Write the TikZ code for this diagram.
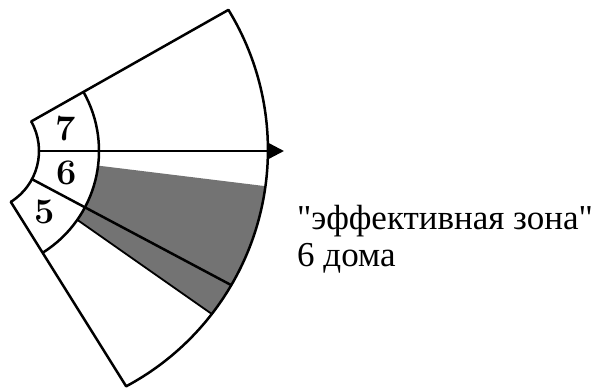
\documentclass[tikz,border=0pt]{standalone}
\usepackage{fontspec}
\newfontfamily\ruserif{Liberation Serif}
\usetikzlibrary{arrows.meta}
\begin{document}
\begin{tikzpicture}[x=1pt,y=1pt, line join=round,
  edge/.style={line width=2.5pt},
  zoneshade/.style={fill=black!55},
  num/.style={font=\fontsize{36}{36}\selectfont\bfseries, inner sep=0pt},
  lbl/.style={font=\ruserif\fontsize{35}{37}\selectfont, inner sep=0pt, anchor=base west}]
\useasboundingbox (0,0) rectangle (592,391);
\coordinate (C) at (-21,240);
% inner arc points
\path (C) ++(29.5:60) coordinate (itop);
\path (C) ++(0:60) coordinate (i0);
\path (C) ++(-28:60) coordinate (i28);
\path (C) ++(-58:60) coordinate (ibot);
% middle arc points
\path (C) ++(29.5:120) coordinate (mtop);
\path (C) ++(-7:120) coordinate (m7);
\path (C) ++(-35:120) coordinate (m35);
% outer arc points
\path (C) ++(29.5:286.6) coordinate (otop);
\path (C) ++(-7:288.7) coordinate (o7);
\path (C) ++(-28:285.85) coordinate (o28);
\path (C) ++(-35:284.3) coordinate (o35);
\coordinate (tip) at (284,240);
% shaded effective zone
\fill[zoneshade] (m7) -- (o7) arc[start angle=-7.76, end angle=-37.75, radius=268]
  -- (m35) arc[start angle=-35, end angle=-7, radius=120] -- cycle;
% outline of the fan
\draw[edge] (itop) -- (otop) arc[start angle=31.5, end angle=-61.9, radius=268]
  -- (ibot) arc[start angle=-58, end angle=29.5, radius=60] -- cycle;
% middle arc
\draw[edge] (mtop) arc[start angle=29.5, end angle=-58, radius=120];
% boundary between 6 and 5, extended
\draw[edge] (i28) -- (o28);
% lower edge of shaded zone
\draw[line width=1.8pt] (m35) -- (o35);
% cusp arrow
\draw[edge, -{Triangle[length=16pt,width=16pt]}] (i0) -- (tip);
% house numbers
\path (C) ++(14.75:90) node[num] (n7) {7};
\path (C) ++(-14:90) node[num] (n6) {6};
\path (C) ++(-43:90) node[num] (n5) {5};
% label
\node[lbl] (z1) at (297,161) {"эффективная зона"};
\node[lbl] (z2) at (297,124) {6 дома};
\end{tikzpicture}
\end{document}
